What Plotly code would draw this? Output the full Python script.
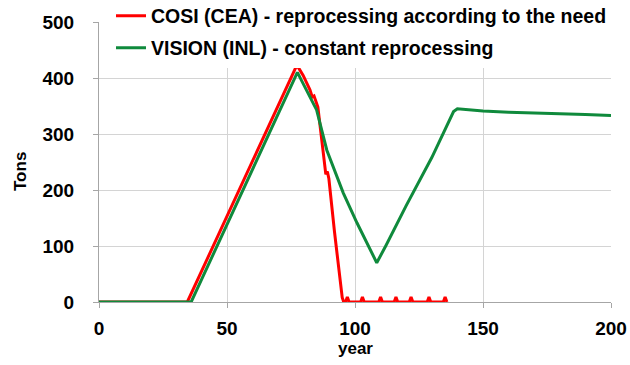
import plotly.graph_objects as go

# COSI (CEA) - reprocessing according to the need
red_year = [0, 34.5, 77.3, 79.7, 82.4, 83.3, 84.0, 85.5, 87.0, 88.6, 89.2, 89.8, 92.0, 94.0, 95.0, 95.6,
            96.3, 97.0, 97.7, 102.2, 102.9, 103.6, 109.3, 110.0, 110.7, 115.3, 116.0, 116.7,
            121.2, 121.9, 122.6, 128.2, 128.9, 129.6, 134.5, 135.2, 135.9]
red_tons = [0, 0, 423, 405, 379, 366, 368, 348, 290, 228, 233, 220, 125, 40, 8, 0,
            0, 9, 0, 0, 9, 0, 0, 9, 0, 0, 9, 0,
            0, 9, 0, 0, 9, 0, 0, 9, 0]

# VISION (INL) - constant reprocessing
green_year = [0, 36, 77.5, 80, 85, 89, 95.4, 100.8, 105.9, 108.5, 112, 120, 130, 138.5, 140, 145, 150, 160, 170, 180, 190, 200]
green_tons = [0, 0, 410, 388, 343, 271, 195, 141, 93, 70, 100, 172, 258, 340, 345, 343, 341, 339, 337, 336, 335, 333]

x_ticks = [0, 50, 100, 150, 200]
y_ticks = [0, 100, 200, 300, 400, 500]

FONT = "Liberation Sans"
W, H = 630, 362

fig = go.Figure()
fig.add_trace(go.Scatter(x=red_year, y=red_tons, mode="lines",
                         name="COSI (CEA) - reprocessing according to the need",
                         line=dict(color="#ff0000", width=3), legend="legend"))
fig.add_trace(go.Scatter(x=green_year, y=green_tons, mode="lines",
                         name="VISION (INL) - constant reprocessing",
                         line=dict(color="#0f8a3c", width=3), legend="legend2"))

legend_font = dict(family=FONT, size=19.5, color="black", weight="bold")
tick_font = dict(family=FONT, size=19, color="black", weight="bold")
title_font = dict(family=FONT, size=17, color="black", weight="bold")

L, T, R, B = 99, 22, 611, 302

fig.update_layout(
    width=W, height=H,
    showlegend=True,
    margin=dict(l=L, r=W - R, t=T, b=H - B, autoexpand=False),
    paper_bgcolor="white", plot_bgcolor="white",
    font=dict(family=FONT, color="black"),
    legend=dict(xref="container", yref="container", x=111 / W, y=1 - 16 / H,
                xanchor="left", yanchor="middle",
                bgcolor="white", font=legend_font, itemwidth=30),
    legend2=dict(xref="container", yref="container", x=111 / W, y=1 - 48 / H,
                 xanchor="left", yanchor="middle",
                 bgcolor="white", font=legend_font, itemwidth=30),
    xaxis=dict(range=[0, 200], tickvals=x_ticks, ticktext=[str(v) for v in x_ticks],
               showgrid=True, gridcolor="#d4d4d4", gridwidth=1,
               showline=True, linecolor="#a6a6a6", linewidth=1,
               ticks="outside", ticklen=5, tickcolor="#a6a6a6",
               tickfont=tick_font, automargin=False, ticklabelstandoff=4,
               zeroline=False),
    yaxis=dict(range=[0, 500], tickvals=y_ticks, ticktext=[str(v) for v in y_ticks],
               showgrid=True, gridcolor="#d4d4d4", gridwidth=1,
               showline=True, linecolor="#a6a6a6", linewidth=1,
               ticks="outside", ticklen=5, tickcolor="#a6a6a6",
               tickfont=tick_font, automargin=False,
               ticklabelstandoff=15,
               zeroline=False),
    annotations=[
        dict(text="Tons", textangle=-90, font=title_font, showarrow=False,
             xref="paper", yref="paper", x=0, xanchor="center", xshift=20 - L,
             y=(B - 172) / (B - T), yanchor="middle"),
        dict(text="year", font=title_font, showarrow=False,
             xref="paper", yref="paper", x=(355 - L) / (R - L), xanchor="center",
             y=0, yanchor="middle", yshift=-(348 - B)),
    ],
)

fig.write_html(
    "out.html",
    config={"displayModeBar": False},
    post_script="document.body.style.margin='0';document.documentElement.style.overflow='hidden';",
)
